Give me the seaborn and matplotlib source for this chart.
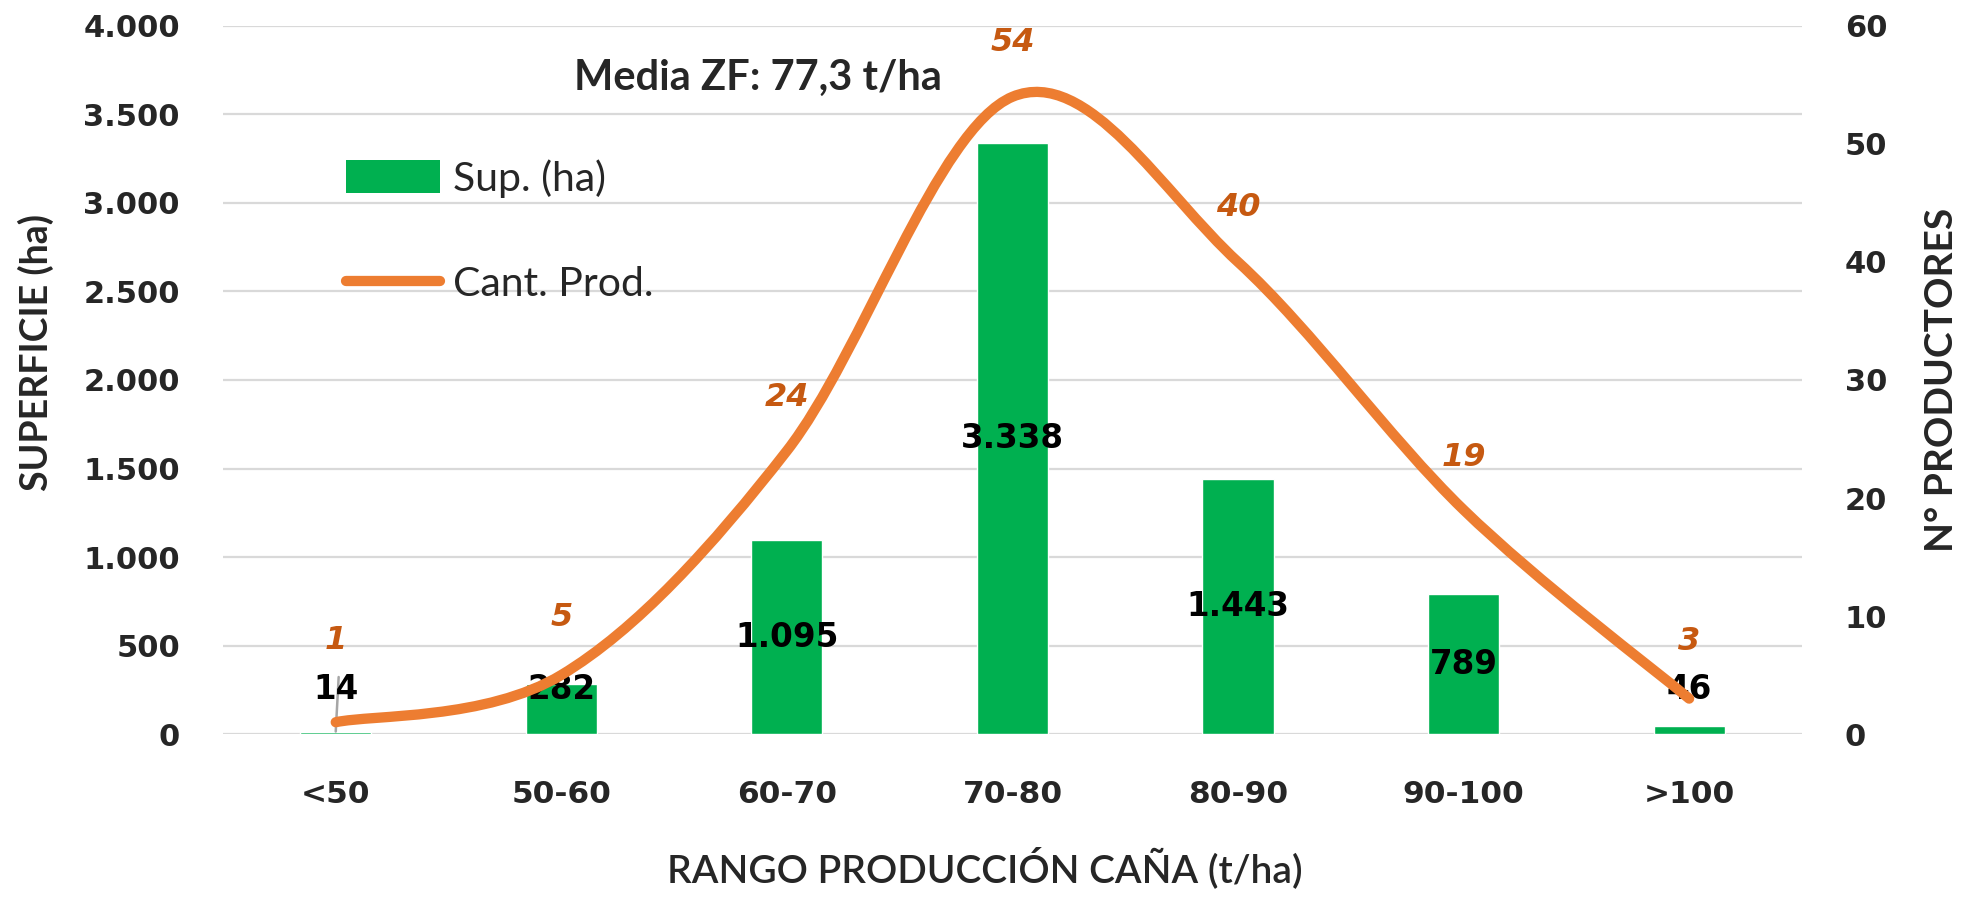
import numpy as np
import pandas as pd
import matplotlib
matplotlib.use("Agg")
import matplotlib.pyplot as plt
from matplotlib.path import Path
from matplotlib.patches import PathPatch, Patch
from matplotlib.lines import Line2D
from matplotlib.ticker import FuncFormatter
import seaborn as sns

# ---- data ----
categories = ["<50", "50-60", "60-70", "70-80", "80-90", "90-100", ">100"]
superficie = [14, 282, 1095, 3338, 1443, 789, 46]
productores = [1, 5, 24, 54, 40, 19, 3]
left_ticks = [0, 500, 1000, 1500, 2000, 2500, 3000, 3500, 4000]
right_ticks = [0, 10, 20, 30, 40, 50, 60]
title_text = "Media ZF: 77,3 t/ha"
bar_label = "Sup. (ha)"
line_label = "Cant. Prod."
xlabel = "RANGO PRODUCCIÓN CAÑA (t/ha)"
ylabel_left = "SUPERFICIE (ha)"
ylabel_right = "N° PRODUCTORES"

GREEN = "#00B050"
ORANGE = "#ED7D31"
ORANGE_TXT = "#C65911"
GRID = "#D9D9D9"

sns.set_theme(style="white")
plt.rcParams["font.family"] = ["DejaVu Sans"]

fig = plt.figure(figsize=(19.73, 9.15), dpi=100)
ax = fig.add_axes([0.1130, 0.1978, 0.8003, 0.7738])

df = pd.DataFrame({"cat": categories, "sup": superficie})
sns.barplot(data=df, x="cat", y="sup", color=GREEN, saturation=1, width=0.315,
            ax=ax, zorder=2)

ax.set_ylim(0, 4000)
ax.set_xlim(-0.5, len(categories) - 0.5)
ax.set_yticks(left_ticks)
ax.yaxis.set_major_formatter(FuncFormatter(lambda v, p: f"{int(v):,}".replace(",", ".")))
ax.grid(axis="y", color=GRID, linewidth=1.6, zorder=0)
ax.grid(axis="x", visible=False)
ax.set_axisbelow(True)
for s in ax.spines.values():
    s.set_visible(False)
ax.tick_params(axis="both", length=0)
ax.tick_params(axis="y", pad=31)
ax.tick_params(axis="x", pad=33)
for t in ax.get_yticklabels():
    t.set_fontsize(22); t.set_fontweight("bold")
for t in ax.get_xticklabels():
    t.set_fontsize(22.5); t.set_fontweight("bold")
ax.set_xlabel("")
ax.set_ylabel("")

# axis titles
fig.text(0.499, 0.051, xlabel, fontsize=28, family="Lato", fontweight="semibold",
         ha="center", va="center")
fig.text(0.018, 0.615, ylabel_left, fontsize=27, family="Lato", fontweight="bold",
         rotation=90, ha="center", va="center")
fig.text(0.984, 0.585, ylabel_right, fontsize=28, family="Lato", fontweight="bold",
         rotation=90, ha="center", va="center")

# bar labels
for i, v in enumerate(superficie):
    ypos = max(v / 2, 249)
    ax.text(i, ypos, f"{v:,}".replace(",", "."), ha="center", va="center",
            fontsize=23.5, fontweight="bold", color="black", zorder=6)
# leader line for tiny first bar
ax.plot([0, 0.013], [14, 322], color="#A6A6A6", lw=1.8, zorder=5)

# secondary axis: smoothed line
ax2 = ax.twinx()
ax2.set_ylim(0, 60)
ax2.set_yticks(right_ticks)
for s in ax2.spines.values():
    s.set_visible(False)
ax2.grid(False)
ax2.tick_params(axis="y", length=0, pad=31)
for t in ax2.get_yticklabels():
    t.set_fontsize(22); t.set_fontweight("bold")
ax2.set_ylabel("")

xs = np.arange(len(productores), dtype=float)
ys = np.array(productores, dtype=float)
verts = [(xs[0], ys[0])]
codes = [Path.MOVETO]
n = len(xs)
for i in range(n - 1):
    p0 = np.array([xs[max(i - 1, 0)], ys[max(i - 1, 0)]])
    p1 = np.array([xs[i], ys[i]])
    p2 = np.array([xs[i + 1], ys[i + 1]])
    p3 = np.array([xs[min(i + 2, n - 1)], ys[min(i + 2, n - 1)]])
    c1 = p1 + (p2 - p0) / 6.0
    c2 = p2 - (p3 - p1) / 6.0
    verts += [tuple(c1), tuple(c2), tuple(p2)]
    codes += [Path.CURVE4] * 3
patch = PathPatch(Path(verts, codes), facecolor="none", edgecolor=ORANGE,
                  lw=7.4, capstyle="round", joinstyle="round", zorder=4)
ax2.add_patch(patch)

offsets_px = [82, 58, 53, 54, 54, 52, 57]
for i, v in enumerate(productores):
    ax2.annotate(str(v), (i, v), xytext=(0, offsets_px[i] * 0.72), textcoords="offset points",
                 ha="center", va="center", fontsize=23, fontweight="bold",
                 fontstyle="italic", color=ORANGE_TXT, zorder=7)

# title-like annotation
fig.text(0.291, 0.915, title_text, fontsize=30, family="Lato", fontweight="bold",
         ha="left", va="center")

# legend
handles = [Patch(facecolor=GREEN, edgecolor="none"),
           Line2D([0], [0], color=ORANGE, lw=7.4, solid_capstyle="round")]
leg = fig.legend(handles, [bar_label, line_label], loc="upper left",
                 bbox_to_anchor=(0.1754, 0.826), frameon=False,
                 prop={"family": "Lato", "size": 29.5}, handlelength=2.3,
                 handleheight=0.85, handletextpad=0.3, labelspacing=1.65,
                 borderaxespad=0, borderpad=0)

fig.savefig("out.png", dpi=100)
